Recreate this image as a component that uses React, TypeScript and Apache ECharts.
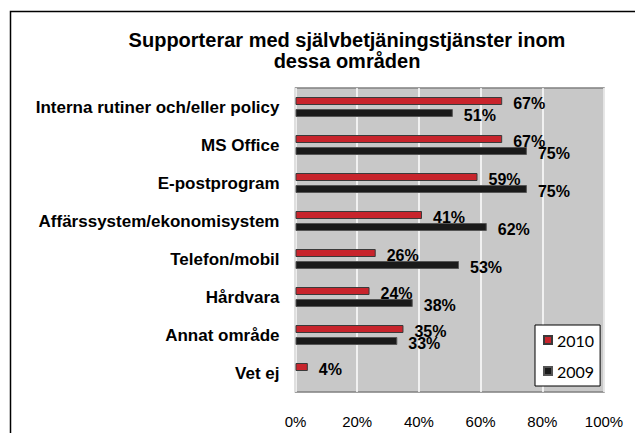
import React, { useEffect, useRef } from "react";
import * as echarts from "echarts";

const titleLines = ["Supporterar med självbetjäningstjänster inom", "dessa områden"];
const categories = [
  "Interna rutiner och/eller policy",
  "MS Office",
  "E-postprogram",
  "Affärssystem/ekonomisystem",
  "Telefon/mobil",
  "Hårdvara",
  "Annat område",
  "Vet ej",
];
const series2010 = [67, 67, 59, 41, 26, 24, 35, 4];
const series2009: (number | null)[] = [51, 75, 75, 62, 53, 38, 33, null];
const xTicks = { min: 0, max: 100, interval: 20 };

export default function App() {
  const ref = useRef<HTMLDivElement>(null);
  useEffect(() => {
    if (!ref.current) return;
    const chart = echarts.init(ref.current, undefined, { renderer: "svg" });
    const labelCommon = {
      show: true,
      position: "right" as const,
      distance: 11,
      offset: [0, 2],
      color: "#000",
      fontFamily: "Liberation Sans, Arial, sans-serif",
      fontWeight: "bold" as const,
      fontSize: 16,
      formatter: "{c}%",
    };
    chart.setOption({
      animation: false,
      backgroundColor: "#fff",
      graphic: [
        {
          type: "rect",
          silent: true,
          shape: { x: 10.5, y: 11.5, width: 700, height: 600 },
          style: { fill: "none", stroke: "#000", lineWidth: 1.5 },
        },
        {
          type: "text",
          silent: true,
          x: 347,
          y: 50,
          style: {
            text: titleLines.join("\n"),
            textAlign: "center",
            textVerticalAlign: "middle",
            font: "bold 20px 'Liberation Sans', Arial, sans-serif",
            lineHeight: 21,
            fill: "#000",
          },
        },
      ],
      grid: {
        left: 295.5,
        right: 31,
        top: 88,
        bottom: 41,
        show: true,
        backgroundColor: "#c8c8c8",
        borderColor: "#808080",
        borderWidth: 1.5,
        containLabel: false,
      },
      legend: {
        orient: "vertical",
        left: 535,
        top: 325,
        backgroundColor: "#fff",
        borderColor: "#000",
        borderWidth: 1,
        borderRadius: 0,
        padding: [7, 6, 7, 8],
        itemGap: 15,
        itemWidth: 8,
        itemHeight: 8,
        icon: "rect",
        textStyle: { fontFamily: "Lato, sans-serif", fontSize: 16, color: "#000" },
        data: ["2010", "2009"],
      },
      xAxis: {
        type: "value",
        min: xTicks.min,
        max: xTicks.max,
        interval: xTicks.interval,
        axisLine: { show: false },
        axisTick: { show: false },
        splitLine: { show: true, lineStyle: { color: "#ffffff", width: 1.5 } },
        axisLabel: {
          formatter: "{value}%",
          margin: 22,
          color: "#000",
          fontFamily: "Liberation Sans, Arial, sans-serif",
          fontSize: 15,
        },
      },
      yAxis: {
        type: "category",
        inverse: true,
        data: categories,
        axisLine: { show: false },
        axisTick: { show: false },
        splitLine: { show: false },
        axisLabel: {
          margin: 16,
          color: "#000",
          fontFamily: "Liberation Sans, Arial, sans-serif",
          fontWeight: "bold",
          fontSize: 17,
        },
      },
      series: [
        {
          name: "2010",
          type: "bar",
          data: series2010,
          barWidth: 8,
          barGap: "50%",
          itemStyle: { color: "#c8242c", borderColor: "#3a3a3a", borderWidth: 1 },
          label: labelCommon,
        },
        {
          name: "2009",
          type: "bar",
          data: series2009,
          barWidth: 8,
          barGap: "50%",
          itemStyle: { color: "#1a1a1a", borderColor: "#555555", borderWidth: 1 },
          label: labelCommon,
        },
      ],
    });
    return () => chart.dispose();
  }, []);
  return (
    <div
      ref={ref}
      style={{ position: "fixed", left: 0, top: 0, width: 635, height: 433 }}
    />
  );
}
